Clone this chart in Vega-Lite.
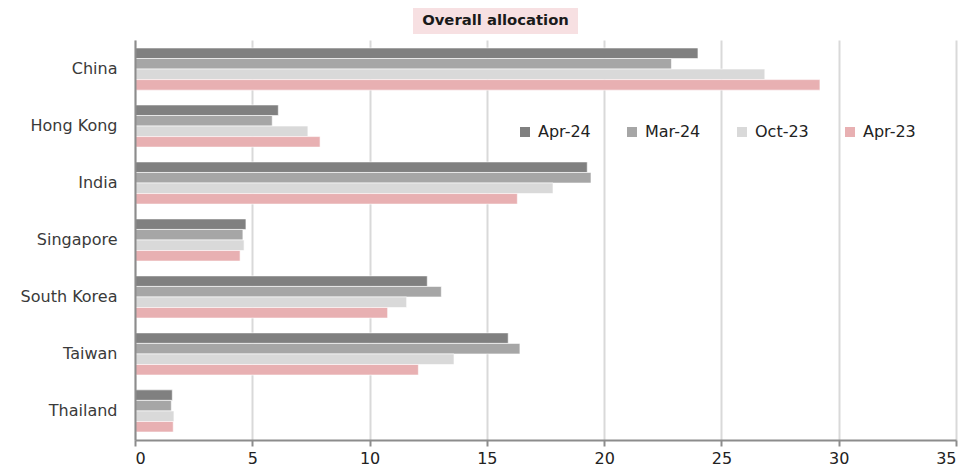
{
  "$schema": "https://vega.github.io/schema/vega-lite/v6.json",
  "padding": {"left": 20, "top": 8, "right": 5, "bottom": 5},
  "background": "white",
  "config": {
    "font": "DejaVu Sans",
    "view": {"stroke": null},
    "concat": {"spacing": 6}
  },
  "datasets": {
    "allocation": [
      {"market": "China", "period": "Apr-24", "weight": 24.0},
      {"market": "China", "period": "Mar-24", "weight": 22.87},
      {"market": "China", "period": "Oct-23", "weight": 26.85},
      {"market": "China", "period": "Apr-23", "weight": 29.2},
      {"market": "Hong Kong", "period": "Apr-24", "weight": 6.11},
      {"market": "Hong Kong", "period": "Mar-24", "weight": 5.85},
      {"market": "Hong Kong", "period": "Oct-23", "weight": 7.37},
      {"market": "Hong Kong", "period": "Apr-23", "weight": 7.89},
      {"market": "India", "period": "Apr-24", "weight": 19.28},
      {"market": "India", "period": "Mar-24", "weight": 19.44},
      {"market": "India", "period": "Oct-23", "weight": 17.82},
      {"market": "India", "period": "Apr-23", "weight": 16.3},
      {"market": "Singapore", "period": "Apr-24", "weight": 4.73},
      {"market": "Singapore", "period": "Mar-24", "weight": 4.6},
      {"market": "Singapore", "period": "Oct-23", "weight": 4.65},
      {"market": "Singapore", "period": "Apr-23", "weight": 4.48},
      {"market": "South Korea", "period": "Apr-24", "weight": 12.46},
      {"market": "South Korea", "period": "Mar-24", "weight": 13.06},
      {"market": "South Korea", "period": "Oct-23", "weight": 11.58},
      {"market": "South Korea", "period": "Apr-23", "weight": 10.77},
      {"market": "Taiwan", "period": "Apr-24", "weight": 15.91},
      {"market": "Taiwan", "period": "Mar-24", "weight": 16.41},
      {"market": "Taiwan", "period": "Oct-23", "weight": 13.6},
      {"market": "Taiwan", "period": "Apr-23", "weight": 12.08},
      {"market": "Thailand", "period": "Apr-24", "weight": 1.59},
      {"market": "Thailand", "period": "Mar-24", "weight": 1.55},
      {"market": "Thailand", "period": "Oct-23", "weight": 1.66},
      {"market": "Thailand", "period": "Apr-23", "weight": 1.63}
    ],
    "heading": [{"label": "Overall allocation"}]
  },
  "vconcat": [
    {
      "spacing": 0,
      "hconcat": [
        {
          "data": {"values": []},
          "width": 278,
          "height": 26,
          "mark": "point"
        },
        {
          "data": {"name": "heading"},
          "width": 165,
          "height": 26,
          "view": {"fill": "#f7e0e2", "stroke": null},
          "mark": {"type": "text", "fontWeight": "bold", "fontSize": 14.8, "color": "#1a1a1a", "baseline": "middle"},
          "encoding": {"text": {"field": "label"}}
        }
      ]
    },
    {
      "data": {"name": "allocation"},
      "width": 821,
      "height": 400,
      "mark": {"type": "bar", "stroke": "white", "strokeWidth": 0.6},
      "encoding": {
        "y": {
          "field": "market",
          "type": "nominal",
          "sort": null,
          "title": null,
          "scale": {"paddingInner": 0.26, "paddingOuter": 0.14},
          "axis": {
            "domain": true,
            "ticks": false,
            "zindex": 2,
            "labelPadding": 18,
            "labelFontSize": 16,
            "labelColor": "#3a3a3a",
            "domainColor": "#8c8c8c",
            "domainWidth": 2,
            "domainOpacity": 1
          }
        },
        "yOffset": {
          "field": "period",
          "type": "nominal",
          "sort": ["Apr-24", "Mar-24", "Oct-23", "Apr-23"]
        },
        "x": {
          "field": "weight",
          "type": "quantitative",
          "title": null,
          "scale": {"domain": [0, 35], "nice": false},
          "axis": {
            "values": [0, 5, 10, 15, 20, 25, 30, 35],
            "labelFontSize": 16,
            "labelColor": "#222222",
            "labelPadding": 4,
            "gridColor": "#d9d9d9",
            "gridWidth": 2,
            "domainColor": "#8c8c8c",
            "domainWidth": 2,
            "tickColor": "#8c8c8c",
            "tickWidth": 2,
            "tickSize": 6
          }
        },
        "color": {
          "field": "period",
          "type": "nominal",
          "sort": ["Apr-24", "Mar-24", "Oct-23", "Apr-23"],
          "scale": {
            "domain": ["Apr-24", "Mar-24", "Oct-23", "Apr-23"],
            "range": ["#808080", "#a6a6a6", "#d9d9d9", "#e8b0b2"]
          },
          "legend": {
            "title": null,
            "orient": "none",
            "direction": "horizontal",
            "legendX": 382,
            "legendY": 116,
            "symbolType": "square",
            "symbolSize": 100,
            "symbolStrokeWidth": 0,
            "labelFontSize": 16,
            "labelColor": "#222222",
            "labelOffset": 5,
            "columnPadding": 33
          }
        }
      }
    }
  ]
}
